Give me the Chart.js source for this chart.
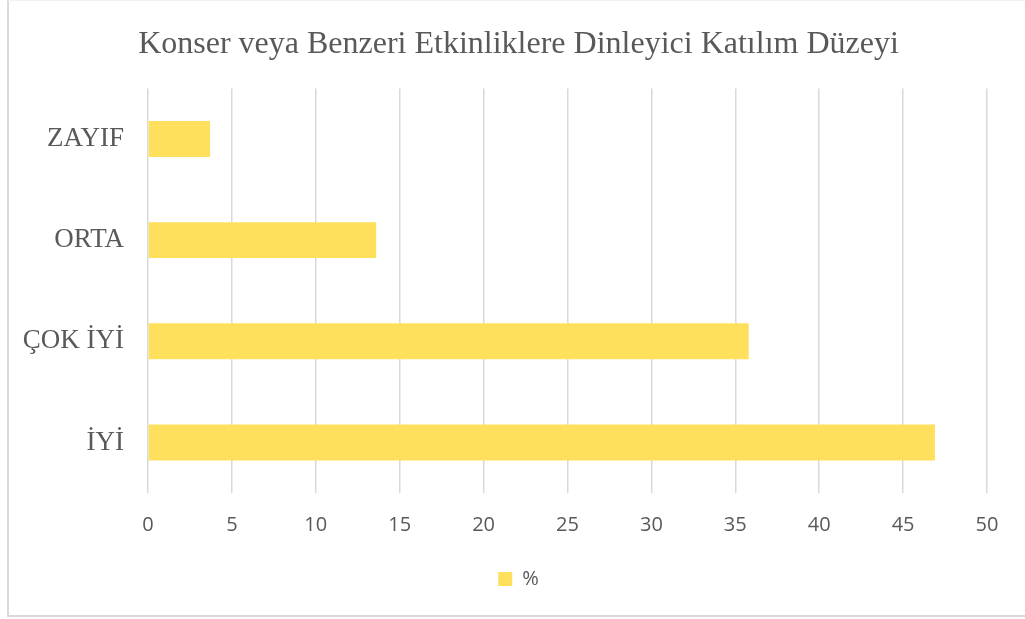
<!DOCTYPE html>
<html>
<head>
<meta charset="utf-8">
<script src="https://cdn.jsdelivr.net/npm/chart.js@4/dist/chart.umd.min.js"></script>
<style>
  html, body { margin: 0; padding: 0; background: #fff; }
  .wrap {
    position: relative;
    width: 1025px;
    height: 619px;
    box-sizing: border-box;
  }
  .frame {
    position: absolute;
    left: 7px; top: 0; right: 0; bottom: 2px;
    border-left: 2px solid #d9d9d9;
    border-bottom: 2px solid #d9d9d9;
    border-top: 1px solid #f2f2f2;
    pointer-events: none;
  }
  canvas { position: absolute; left: 0; top: 0; }
</style>
</head>
<body>
<div class="wrap">
  <div class="frame"></div>
  <canvas id="barChart" width="1025" height="619"></canvas>
</div>
<script>
  // veriler (yukarıdan aşağıya)
  const categories = ['ZAYIF', 'ORTA', 'ÇOK İYİ', 'İYİ'];
  const percentValues = [3.7, 13.6, 35.8, 46.9];
  const seriesName = '%';
  const chartTitle = 'Konser veya Benzeri Etkinliklere Dinleyici Katılım Düzeyi';
  const xMax = 50;
  const xStep = 5;

  const textGray = '#595959';
  const gridGray = '#d9d9d9';
  const barYellow = '#FFE05D';

  // y ekseni etiketleri sol dolguya taşabilsin (kırpılmasın)
  const unclipYLabels = {
    id: 'unclipYLabels',
    afterLayout: function (chart) {
      chart.scales.y.left = 0;
    }
  };

  const ctx = document.getElementById('barChart').getContext('2d');
  const barChart = new Chart(ctx, {
    type: 'bar',
    data: {
      labels: categories,
      datasets: [{
        label: seriesName,
        data: percentValues,
        backgroundColor: barYellow,
        borderWidth: 0,
        categoryPercentage: 1,
        barPercentage: 0.355
      }]
    },
    plugins: [unclipYLabels],
    options: {
      indexAxis: 'y',
      responsive: false,
      animation: false,
      layout: {
        padding: { left: 50, right: 38, top: 0, bottom: 20 }
      },
      scales: {
        x: {
          min: 0,
          max: xMax,
          ticks: {
            stepSize: xStep,
            color: textGray,
            padding: 20,
            font: { family: 'Open Sans', size: 20 }
          },
          grid: { color: gridGray, lineWidth: 1.5, drawTicks: false },
          border: { display: false },
          afterFit: function (scale) { scale.height = 66; }
        },
        y: {
          ticks: {
            color: textGray,
            padding: 24,
            font: { family: 'Liberation Serif', size: 27 }
          },
          grid: { display: false, drawTicks: false },
          border: { display: false },
          afterFit: function (scale) { scale.width = 98; }
        }
      },
      plugins: {
        title: {
          display: true,
          text: chartTitle,
          color: textGray,
          font: { family: 'Liberation Serif', size: 32, weight: 'normal' },
          padding: { top: 25, bottom: 25 }
        },
        legend: {
          position: 'bottom',
          labels: {
            color: textGray,
            boxWidth: 14,
            boxHeight: 14,
            font: { family: 'Open Sans', size: 20 }
          }
        },
        tooltip: { enabled: false }
      }
    }
  });
</script>
</body>
</html>
